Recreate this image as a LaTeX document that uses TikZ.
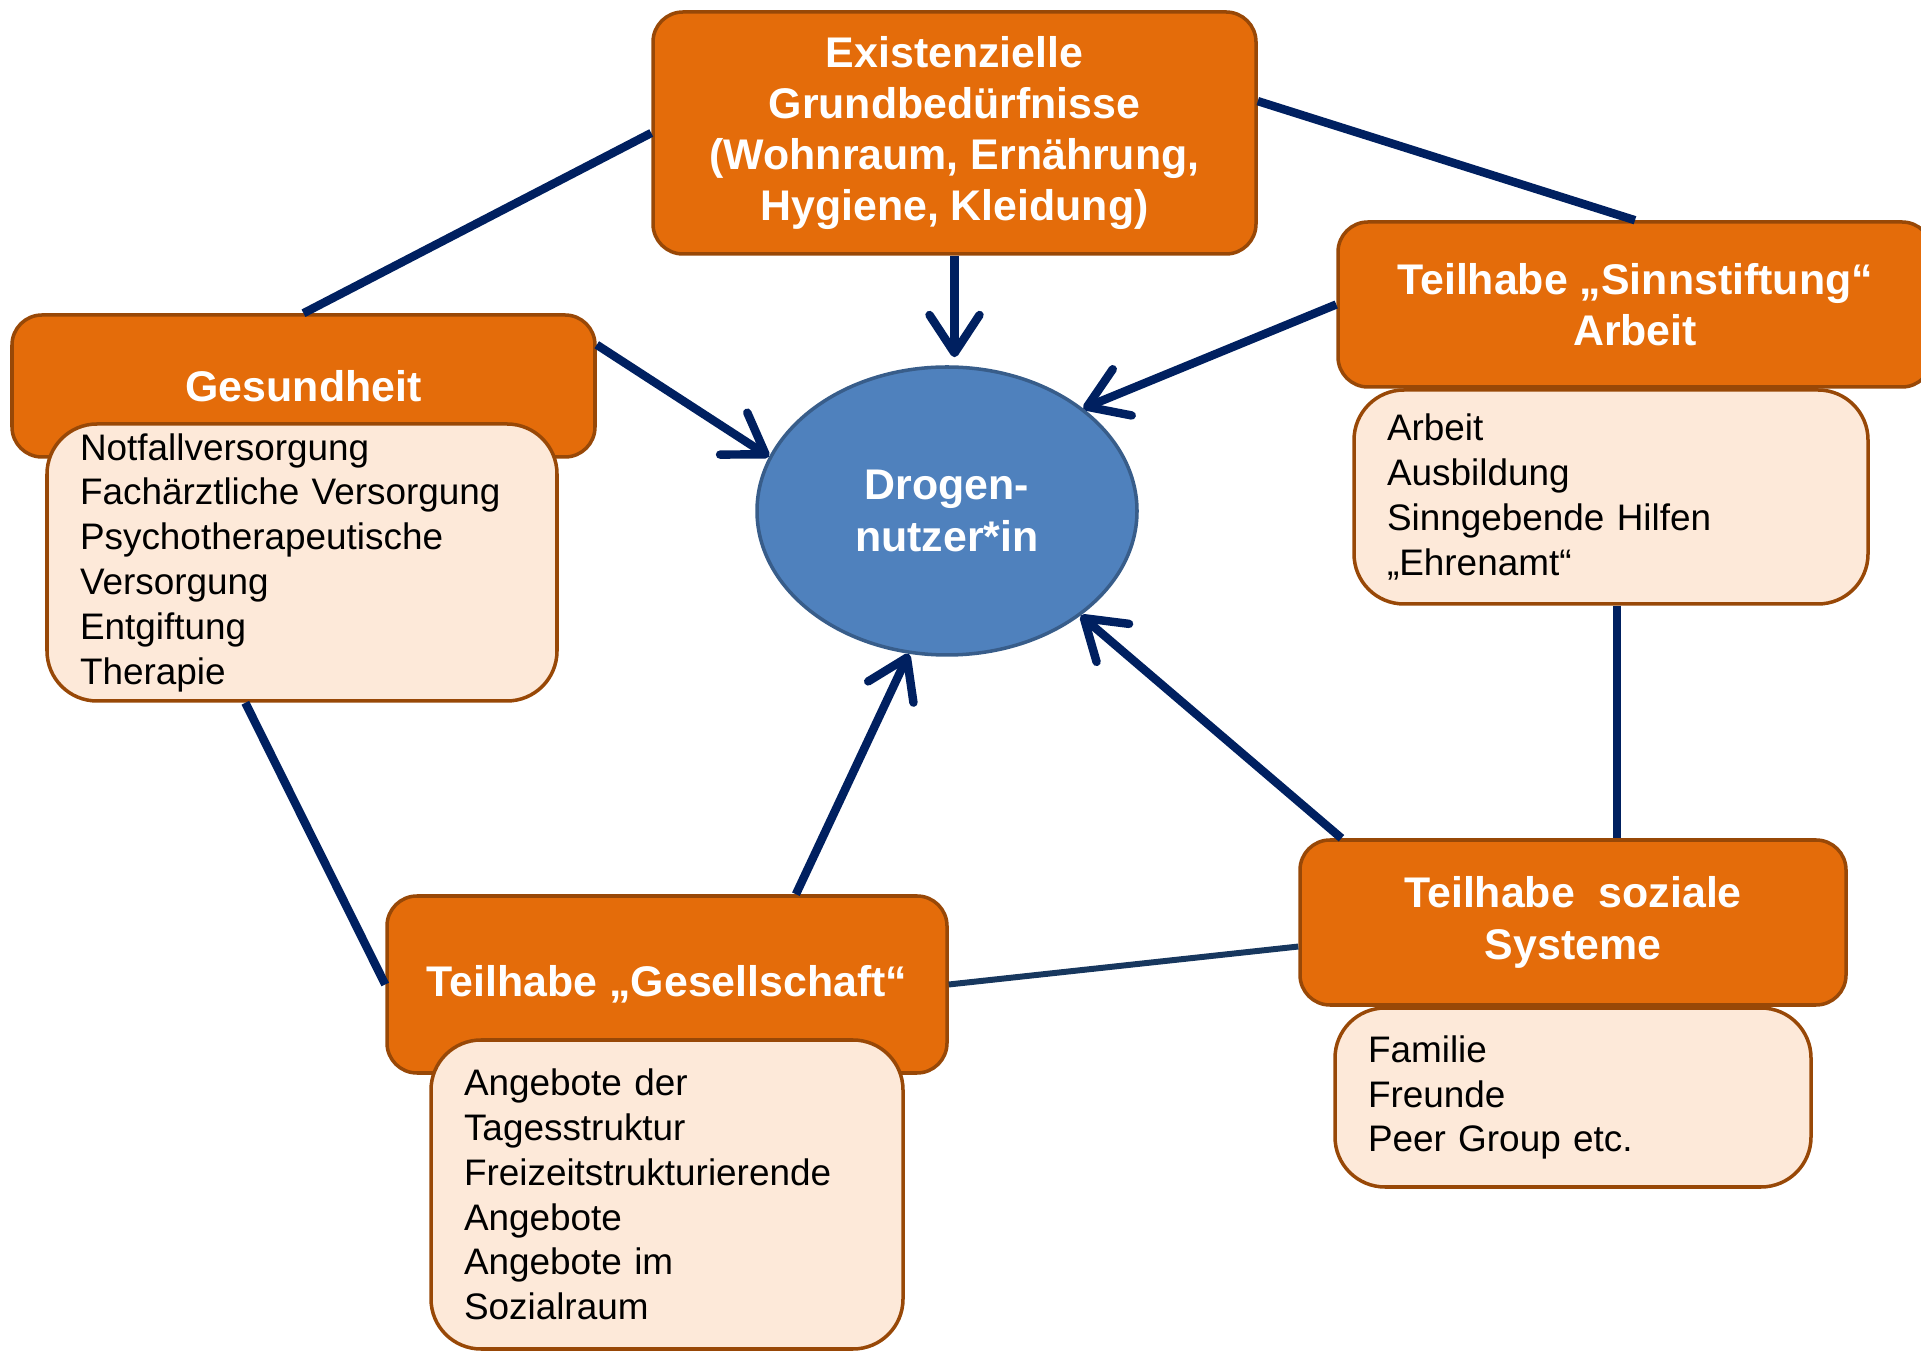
\documentclass[tikz,border=0pt]{standalone}
\usepackage{fontspec}
\setmainfont{Liberation Sans}
\usetikzlibrary{arrows.meta,shapes.geometric}
\definecolor{boxorange}{HTML}{E46C0A}
\definecolor{boxedge}{HTML}{984807}
\definecolor{boxpeach}{HTML}{FDE9D9}
\definecolor{userblue}{HTML}{4F81BD}
\definecolor{useredge}{HTML}{385D8A}
\definecolor{linknavy}{HTML}{002060}
\definecolor{linkslate}{HTML}{17375E}
\newcommand{\headfont}{\fontsize{12.2}{14.6}\selectfont\bfseries}
\newcommand{\listfont}{\fontsize{10.5}{12.75}\selectfont}

\begin{document}
\begin{tikzpicture}[x=.1mm,y=-.1mm,>={Straight Barb[length=3.8mm,width=5mm,round]},
  headbox/.style={draw=boxedge,fill=boxorange,line width=1pt,rounded corners=3mm,text=white,font=\headfont,align=center,inner sep=0pt},
  listbox/.style={draw=boxedge,fill=boxpeach,line width=1pt,rounded corners=5mm,font=\listfont,align=left,inner xsep=3.3mm,inner ysep=0pt},
  link/.style={draw=linknavy,line width=2.4pt}]
  \useasboundingbox (0,0) rectangle (1921,1351);

  \node[headbox,minimum width=60.3mm,minimum height=24.2mm] (exist) at (954.5,133) {Existenzielle\\Grundbedürfnisse\\(Wohnraum, Ernährung,\\Hygiene, Kleidung)};
  \node[ellipse,draw=useredge,fill=userblue,line width=1pt,minimum width=38mm,minimum height=28.8mm,inner sep=0pt,text=white,font=\headfont,align=center] (ell) at (947,511) {Drogen-\\nutzer*in};

  \node[headbox,minimum width=58.3mm,minimum height=14.2mm] (gesund) at (303.5,386) {Gesundheit};
  \node[listbox,text width=44.4mm,minimum height=27.7mm] (gesundL) at (302,562.5) {Notfallversorgung\\Fachärztliche Versorgung\\Psychotherapeutische\\Versorgung\\Entgiftung\\Therapie};

  \node[headbox,minimum width=59.4mm,minimum height=16.5mm] (sinn) at (1635,304.5) {Teilhabe „Sinnstiftung“\\Arbeit};
  \node[listbox,text width=44.8mm,minimum height=21.4mm] (sinnL) at (1611,497) {Arbeit\\Ausbildung\\Sinngebende Hilfen\\„Ehrenamt“};

  \node[headbox,minimum width=54.6mm,minimum height=16.5mm] (sozial) at (1573,922.5) {Teilhabe~ soziale\\Systeme};
  \node[listbox,text width=41mm,minimum height=17.9mm] (sozialL) at (1573,1097.5) {Familie\\Freunde\\Peer Group etc.};

  \node[headbox,minimum width=56mm,minimum height=17.7mm] (gesell) at (667,984.5) {Teilhabe „Gesellschaft“};
  \node[listbox,text width=40.6mm,minimum height=30.9mm] (gesellL) at (667,1194.5) {Angebote der\\Tagesstruktur\\Freizeitstrukturierende\\Angebote\\Angebote im\\Sozialraum};

  \draw[link] (exist.west) -- (gesund.north);
  \draw[link] (exist.6) -- (sinn.north);
  \draw[link,->,shorten >=.8mm] (exist.south) -- (exist.south |- ell.north);
  \draw[link,->] (gesund.8) -- (ell.163);
  \draw[link,->] (sinn.west) -- (ell.37);
  \draw[link] (gesundL.248) -- (gesell.west);
  \draw[link,->] (gesell.35) -- (ell.255);
  \draw[link,->] (sozial.160) -- (ell.322);
  \draw[link,draw=linkslate,line width=1.7pt] (gesell.east) -- (sozial.185);
  \draw[link] (sinnL.273) -- (sinnL.273 |- sozial.north);
\end{tikzpicture}
\end{document}
